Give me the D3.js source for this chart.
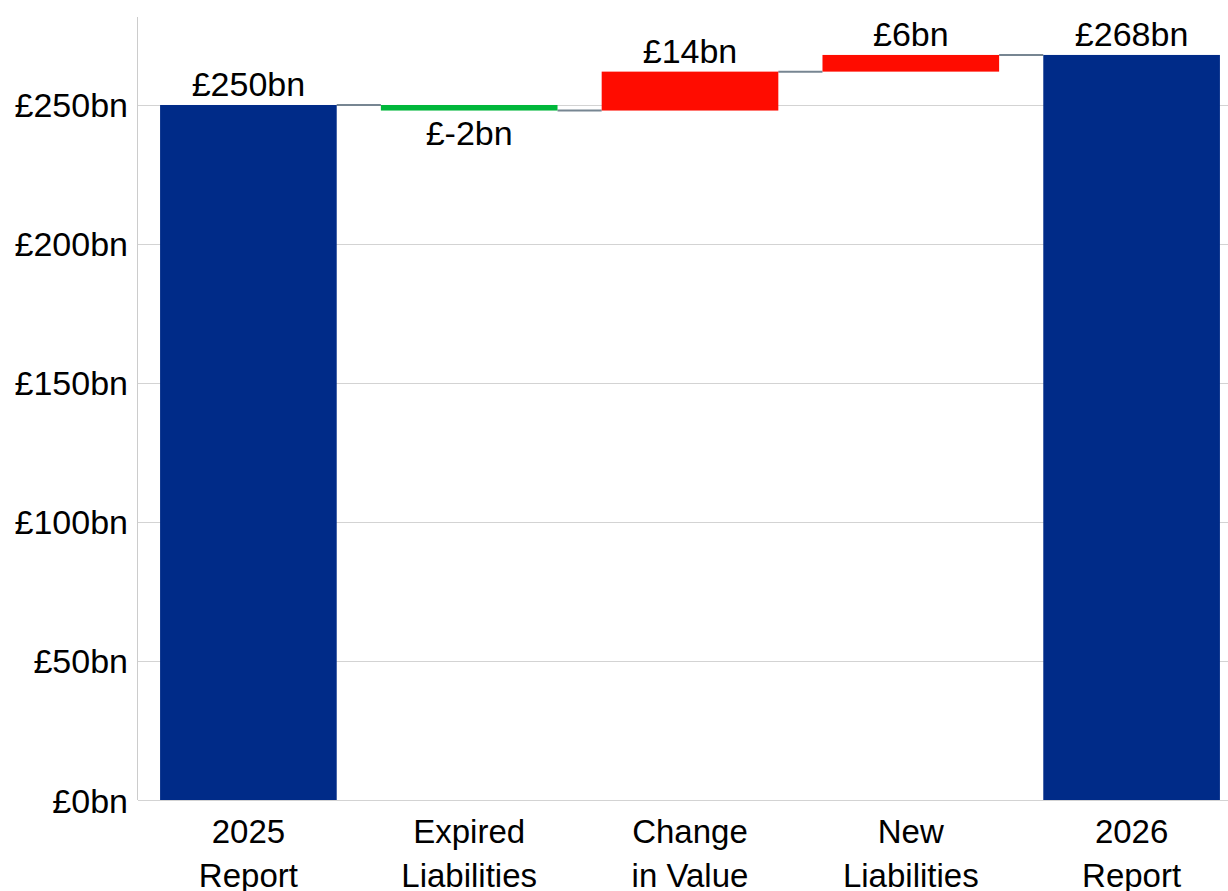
<!DOCTYPE html>
<html>
<head>
<meta charset="utf-8">
<script src="https://cdn.jsdelivr.net/npm/d3@7"></script>
<style>
  html, body { margin: 0; padding: 0; background: #fff; }
  svg { display: block; font-family: "Liberation Sans", Arial, sans-serif; }
</style>
</head>
<body>
<svg id="chart" width="1228" height="891"></svg>
<script>
// Waterfall of liabilities between the 2025 and 2026 reports (£bn)
const categories = [["2025", "Report"], ["Expired", "Liabilities"], ["Change", "in Value"], ["New", "Liabilities"], ["2026", "Report"]];
const steps = [250, -2, 14, 6, 268];
const stepKinds = ["total", "delta", "delta", "delta", "total"];
const yTicks = [0, 50, 100, 150, 200, 250];

const colours = { total: "#002b88", up: "#ff0c00", down: "#00b73b" };

const svg = d3.select("#chart");
const margin = { left: 138, right: -14, top: 17, bottom: 91 };
const W = 1228, H = 891;

const x = d3.scaleBand()
  .domain(d3.range(categories.length))
  .range([margin.left, W - margin.right])
  .paddingInner(0.2)
  .paddingOuter(0.1);

const y = d3.scaleLinear()
  .domain([0, 281.65])
  .range([H - margin.bottom, margin.top]);

// running totals for each bar
let running = 0;
const bars = steps.map((v, i) => {
  let lo, hi, end;
  if (stepKinds[i] === "total") {
    lo = 0; hi = v; end = v; running = v;
  } else {
    const start = running;
    end = start + v;
    lo = Math.min(start, end); hi = Math.max(start, end);
    running = end;
  }
  const colour = stepKinds[i] === "total" ? colours.total : (v < 0 ? colours.down : colours.up);
  return { i, v, lo, hi, end, colour, kind: stepKinds[i] };
});

// gridlines
svg.append("g")
  .selectAll("line")
  .data(yTicks)
  .join("line")
  .attr("x1", margin.left).attr("x2", W)
  .attr("y1", d => Math.round(y(d)) + 0.5).attr("y2", d => Math.round(y(d)) + 0.5)
  .attr("stroke", "#d3d3d3").attr("stroke-width", 1);

// y axis line
svg.append("line")
  .attr("x1", margin.left - 0.5).attr("x2", margin.left - 0.5)
  .attr("y1", margin.top).attr("y2", y(0))
  .attr("stroke", "#cccccc").attr("stroke-width", 1);

// y tick labels
svg.append("g")
  .selectAll("text")
  .data(yTicks)
  .join("text")
  .attr("x", 128)
  .attr("y", d => y(d) + 12.5)
  .attr("text-anchor", "end")
  .attr("font-size", 34)
  .attr("fill", "#000")
  .text(d => "£" + d + "bn");

// connectors between consecutive bars
svg.append("g")
  .selectAll("line")
  .data(bars.slice(0, -1))
  .join("line")
  .attr("x1", d => x(d.i) + x.bandwidth())
  .attr("x2", d => x(d.i + 1))
  .attr("y1", d => y(d.end))
  .attr("y2", d => y(d.end))
  .attr("stroke", "#778692").attr("stroke-width", 2);

// bars
svg.append("g")
  .selectAll("rect")
  .data(bars)
  .join("rect")
  .attr("x", d => x(d.i))
  .attr("width", x.bandwidth())
  .attr("y", d => y(d.hi))
  .attr("height", d => y(d.lo) - y(d.hi))
  .attr("fill", d => d.colour);

// value labels
svg.append("g")
  .selectAll("text")
  .data(bars)
  .join("text")
  .attr("x", d => x(d.i) + x.bandwidth() / 2)
  .attr("y", d => d.v < 0 ? y(d.lo) + 34 : y(d.hi) - 9)
  .attr("text-anchor", "middle")
  .attr("font-size", 34)
  .attr("fill", "#000")
  .text(d => "£" + d.v + "bn");

// category labels
const cat = svg.append("g")
  .selectAll("text")
  .data(categories)
  .join("text")
  .attr("text-anchor", "middle")
  .attr("font-size", 33)
  .attr("fill", "#000");
cat.each(function (lines, i) {
  const t = d3.select(this);
  lines.forEach((line, k) => {
    t.append("tspan")
      .attr("x", x(i) + x.bandwidth() / 2)
      .attr("y", y(0) + 43 + k * 44)
      .text(line);
  });
});
</script>
</body>
</html>
